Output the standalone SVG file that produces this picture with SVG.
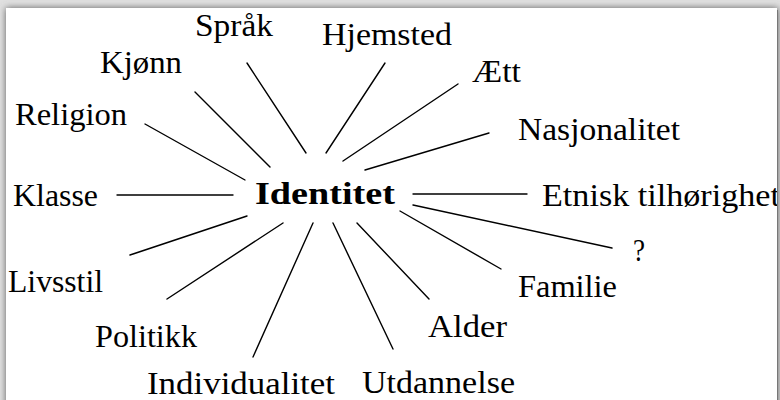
<svg xmlns="http://www.w3.org/2000/svg" width="780" height="400" viewBox="0 0 780 400">
<defs>
<filter id="sh" x="-5%" y="-5%" width="110%" height="110%"><feGaussianBlur stdDeviation="3.5"/></filter>
<clipPath id="card"><rect x="6" y="8" width="771" height="392"/></clipPath>
<style>
.t{font-family:"Liberation Serif","Times New Roman",serif;font-size:32px;fill:#000}
.b{font-weight:bold}
.c line{stroke:#000;stroke-width:1.4;stroke-linecap:round}
</style>
</defs>
<rect x="0" y="0" width="780" height="400" fill="#e0e0e0"/>
<rect x="6" y="8" width="772" height="400" fill="#5e5e5e" filter="url(#sh)"/>
<rect x="6" y="8" width="771" height="400" fill="#fff"/>
<line x1="777.5" y1="10" x2="777.5" y2="400" stroke="#777" stroke-width="1"/>
<g clip-path="url(#card)">
<g class="c" id="connectors">
<line x1="145" y1="124" x2="245" y2="180"/>
<line x1="195" y1="92" x2="270" y2="167"/>
<line x1="247" y1="63" x2="306" y2="153"/>
<line x1="385" y1="63" x2="326" y2="153"/>
<line x1="458" y1="84" x2="343" y2="161"/>
<line x1="489" y1="133" x2="365" y2="170"/>
<line x1="117" y1="195" x2="233" y2="195"/>
<line x1="413" y1="194" x2="527" y2="194"/>
<line x1="413" y1="205" x2="612" y2="248"/>
<line x1="400" y1="211" x2="501" y2="269"/>
<line x1="357" y1="223" x2="429" y2="299"/>
<line x1="333" y1="223" x2="393" y2="349"/>
<line x1="313" y1="223" x2="253" y2="357"/>
<line x1="283" y1="223" x2="167" y2="299"/>
<line x1="247" y1="216" x2="130" y2="255"/>
</g>
<g id="identitet"><text class="t b" x="255" y="204" textLength="140" lengthAdjust="spacingAndGlyphs">Identitet</text></g>
<g id="sprak"><text class="t" x="195" y="36" textLength="78" lengthAdjust="spacingAndGlyphs">Språk</text></g>
<g id="hjemsted"><text class="t" x="322" y="45" textLength="130" lengthAdjust="spacingAndGlyphs">Hjemsted</text></g>
<g id="kjonn"><text class="t" x="100" y="73" textLength="82" lengthAdjust="spacingAndGlyphs">Kjønn</text></g>
<g id="religion"><text class="t" x="15" y="125" textLength="112" lengthAdjust="spacingAndGlyphs">Religion</text></g>
<g id="aett"><text class="t" x="472" y="82" textLength="49" lengthAdjust="spacingAndGlyphs">Ætt</text></g>
<g id="nasjonalitet"><text class="t" x="518" y="140" textLength="162" lengthAdjust="spacingAndGlyphs">Nasjonalitet</text></g>
<g id="klasse"><text class="t" x="13" y="206" textLength="85" lengthAdjust="spacingAndGlyphs">Klasse</text></g>
<g id="etnisk"><text class="t" x="542" y="206" textLength="238" lengthAdjust="spacingAndGlyphs">Etnisk tilhørighet</text></g>
<g id="sporsmal"><text class="t" x="633" y="261" textLength="12" lengthAdjust="spacingAndGlyphs">?</text></g>
<g id="familie"><text class="t" x="518" y="297" textLength="99" lengthAdjust="spacingAndGlyphs">Familie</text></g>
<g id="alder"><text class="t" x="428" y="337" textLength="79" lengthAdjust="spacingAndGlyphs">Alder</text></g>
<g id="utdannelse"><text class="t" x="362" y="393" textLength="153" lengthAdjust="spacingAndGlyphs">Utdannelse</text></g>
<g id="individualitet"><text class="t" x="147" y="394" textLength="188" lengthAdjust="spacingAndGlyphs">Individualitet</text></g>
<g id="livsstil"><text class="t" x="8" y="292" textLength="95" lengthAdjust="spacingAndGlyphs">Livsstil</text></g>
<g id="politikk"><text class="t" x="95" y="347" textLength="102" lengthAdjust="spacingAndGlyphs">Politikk</text></g>
</g>
</svg>
